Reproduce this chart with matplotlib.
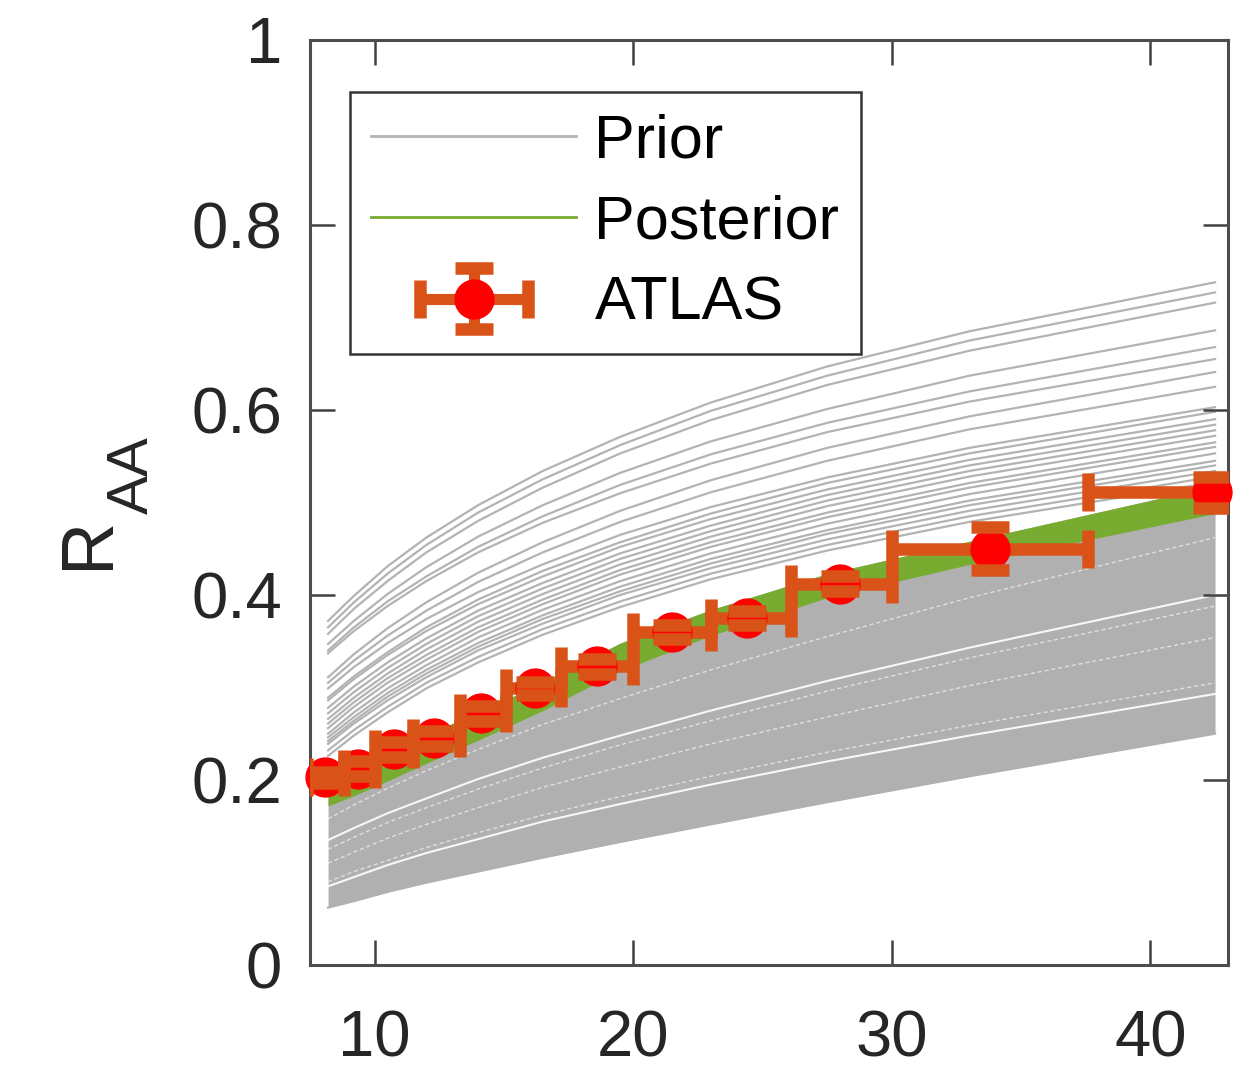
import numpy as np
import matplotlib
matplotlib.use("Agg")
import matplotlib.pyplot as plt
from matplotlib.lines import Line2D
from matplotlib.legend_handler import HandlerErrorbar

plt.rcParams['font.family'] = ['Liberation Sans', 'DejaVu Sans']

prior_x = [8.2, 9.2, 10.5, 12, 14, 16.5, 19.5, 23, 27.5, 33, 42.5]

# individual prior curves visible above the dense bundle
prior_curves = [
    [0.372, 0.399, 0.431, 0.462, 0.497, 0.534, 0.571, 0.608, 0.647, 0.685, 0.738],
    [0.365, 0.392, 0.423, 0.454, 0.489, 0.525, 0.562, 0.599, 0.637, 0.675, 0.727],
    [0.358, 0.385, 0.415, 0.446, 0.480, 0.516, 0.553, 0.589, 0.627, 0.664, 0.716],
    [0.347, 0.372, 0.401, 0.430, 0.463, 0.497, 0.532, 0.566, 0.601, 0.637, 0.686],
    [0.340, 0.365, 0.393, 0.420, 0.452, 0.485, 0.519, 0.552, 0.586, 0.620, 0.668],
    [0.337, 0.361, 0.388, 0.415, 0.446, 0.478, 0.510, 0.542, 0.576, 0.609, 0.655],
    [0.311, 0.336, 0.364, 0.392, 0.424, 0.457, 0.491, 0.524, 0.559, 0.593, 0.641],
    [0.305, 0.329, 0.356, 0.383, 0.414, 0.446, 0.479, 0.511, 0.545, 0.579, 0.625],
    [0.299, 0.322, 0.348, 0.374, 0.403, 0.433, 0.465, 0.495, 0.527, 0.559, 0.603],
    [0.289, 0.312, 0.338, 0.365, 0.395, 0.426, 0.457, 0.488, 0.521, 0.553, 0.598],
    [0.286, 0.309, 0.335, 0.361, 0.390, 0.420, 0.452, 0.482, 0.514, 0.546, 0.590],
    [0.278, 0.301, 0.327, 0.353, 0.383, 0.413, 0.445, 0.475, 0.508, 0.540, 0.584],
    [0.272, 0.295, 0.321, 0.347, 0.377, 0.407, 0.439, 0.469, 0.502, 0.534, 0.578],
    [0.266, 0.289, 0.315, 0.341, 0.371, 0.401, 0.433, 0.463, 0.496, 0.528, 0.572],
    [0.261, 0.284, 0.310, 0.335, 0.365, 0.395, 0.427, 0.457, 0.489, 0.521, 0.565],
    [0.256, 0.279, 0.305, 0.330, 0.360, 0.390, 0.422, 0.452, 0.484, 0.516, 0.560],
    [0.250, 0.273, 0.299, 0.324, 0.354, 0.384, 0.415, 0.445, 0.477, 0.509, 0.553],
    [0.246, 0.268, 0.294, 0.319, 0.348, 0.378, 0.409, 0.439, 0.470, 0.502, 0.545],
    [0.242, 0.264, 0.290, 0.315, 0.344, 0.374, 0.404, 0.434, 0.466, 0.497, 0.540],
    [0.239, 0.261, 0.286, 0.311, 0.340, 0.369, 0.400, 0.429, 0.460, 0.491, 0.534],
    [0.232, 0.254, 0.279, 0.305, 0.333, 0.363, 0.393, 0.423, 0.454, 0.485, 0.528],
    [0.226, 0.248, 0.273, 0.299, 0.327, 0.357, 0.387, 0.417, 0.448, 0.479, 0.522],
]

# lower edge of the dense bundle of prior curves
dense_lo = [0.062, 0.069, 0.079, 0.089, 0.101, 0.116, 0.133, 0.152, 0.176, 0.204, 0.250]

# gaps (white streaks) inside the dense bundle
gaps_strong = [
    [0.135, 0.148, 0.164, 0.180, 0.201, 0.224, 0.248, 0.275, 0.307, 0.343, 0.400],
    [0.085, 0.095, 0.108, 0.121, 0.136, 0.155, 0.174, 0.195, 0.220, 0.248, 0.293],
]
gaps_faint = [
    [0.158, 0.173, 0.191, 0.210, 0.233, 0.260, 0.288, 0.319, 0.355, 0.397, 0.462],
    [0.125, 0.138, 0.154, 0.170, 0.190, 0.213, 0.238, 0.264, 0.296, 0.332, 0.388],
    [0.110, 0.122, 0.137, 0.152, 0.170, 0.192, 0.214, 0.239, 0.268, 0.302, 0.354],
    [0.090, 0.101, 0.113, 0.127, 0.143, 0.162, 0.182, 0.204, 0.230, 0.259, 0.305],
]

# posterior band
post_lo = [0.172, 0.183, 0.199, 0.218, 0.243, 0.275, 0.318, 0.356, 0.397, 0.433, 0.488]
post_hi = [0.200, 0.211, 0.228, 0.249, 0.273, 0.305, 0.348, 0.384, 0.423, 0.458, 0.518]

# ATLAS data
atlas_x = [8.1, 9.35, 10.75, 12.3, 14.1, 16.2, 18.6, 21.5, 24.4, 28.0, 33.8, 42.4]
atlas_y = [0.203, 0.212, 0.233, 0.245, 0.272, 0.299, 0.323, 0.360, 0.375, 0.412, 0.450, 0.511]
atlas_err = [0.006, 0.008, 0.008, 0.008, 0.008, 0.007, 0.008, 0.008, 0.008, 0.008, 0.023, 0.017]
bin_lo = [7.4, 8.8, 10.0, 11.5, 13.3, 15.1, 17.2, 20.0, 23.0, 26.1, 30.0, 37.6]
bin_hi = [8.8, 10.0, 11.5, 13.3, 15.1, 17.2, 20.0, 23.0, 26.1, 30.0, 37.6, 48.0]

GRAY = '#b3b3b3'
GREEN = '#77ac30'
ORANGE = '#d95319'
RED = '#ff0000'

fig = plt.figure(figsize=(12.6, 10.76), dpi=100)
ax = fig.add_axes([0.246, 0.1032, 0.7286, 0.8597])

# prior
ax.fill_between(prior_x, dense_lo, post_hi, color='#b0b0b0', lw=0, zorder=1)
ax.plot(prior_x, dense_lo, color='#b0b0b0', lw=1.6, zorder=1)
for c in prior_curves:
    ax.plot(prior_x, c, color=GRAY, lw=1.6, zorder=1)
for c in gaps_strong:
    ax.plot(prior_x, c, color='white', lw=1.5, alpha=0.9, zorder=1.5)
for c in gaps_faint:
    ax.plot(prior_x, c, color='white', lw=1.0, alpha=0.6, ls=(0, (3, 2)), zorder=1.5)

# posterior
ax.fill_between(prior_x, post_lo, post_hi, color=GREEN, lw=0, zorder=2)

# ATLAS: bars under the markers, caps on top of them
xerr = [np.subtract(atlas_x, bin_lo), np.subtract(bin_hi, atlas_x)]
_, caps, bars = ax.errorbar(atlas_x, atlas_y, xerr=xerr, yerr=atlas_err, fmt='none',
                            ecolor=ORANGE, elinewidth=9, capsize=14, capthick=9)
for b in bars:
    b.set_zorder(3)
for c in caps:
    c.set_zorder(5)
ax.plot(atlas_x, atlas_y, 'o', ms=28, mfc=RED, mec=RED, zorder=4, clip_on=False)

# legend
prior_h = Line2D([], [], color=GRAY, lw=2)
post_h = Line2D([], [], color=GREEN, lw=2)
atlas_h = ax.errorbar([np.nan], [np.nan], xerr=[1], yerr=[1], fmt='o', ms=28, color=RED,
                      mfc=RED, mec=RED, ecolor=ORANGE, elinewidth=8, capsize=14, capthick=9)
leg = ax.legend([prior_h, post_h, atlas_h], ['Prior', 'Posterior', 'ATLAS'],
                handler_map={atlas_h: HandlerErrorbar(xerr_size=0.88, yerr_size=0.5)},
                loc='upper left', bbox_to_anchor=(0.0436, 0.944), borderaxespad=0,
                fontsize=44, handlelength=3.35, handletextpad=0.3, borderpad=0.35,
                labelspacing=0.4, fancybox=False, framealpha=1, edgecolor='#333333')
leg.get_frame().set_linewidth(1.8)
leg.set_zorder(10)

ax.set_xlim(7.5, 43)
ax.set_ylim(0, 1)
ax.set_xticks([10, 20, 30, 40])
ax.set_yticks([0, 0.2, 0.4, 0.6, 0.8, 1])
ax.set_yticklabels(['0', '0.2', '0.4', '0.6', '0.8', '1'])
ax.tick_params(direction='in', length=18, width=1.8, top=True, right=True,
               labelsize=47, color='#404040', labelcolor='#262626')
ax.tick_params(axis='x', pad=32)
ax.tick_params(axis='y', pad=20)
for s in ax.spines.values():
    s.set_linewidth(2.2)
    s.set_color('#4d4d4d')

# y label: R with a subscript AA
fig.text(88 / 1260, 1 - 542 / 1076, 'R', fontsize=53, rotation=90,
         ha='center', va='center', color='#262626')
fig.text(133 / 1260, 1 - 475 / 1076, 'AA', fontsize=42, rotation=90,
         ha='center', va='center', color='#262626')

fig.savefig('out.png', dpi=100)
